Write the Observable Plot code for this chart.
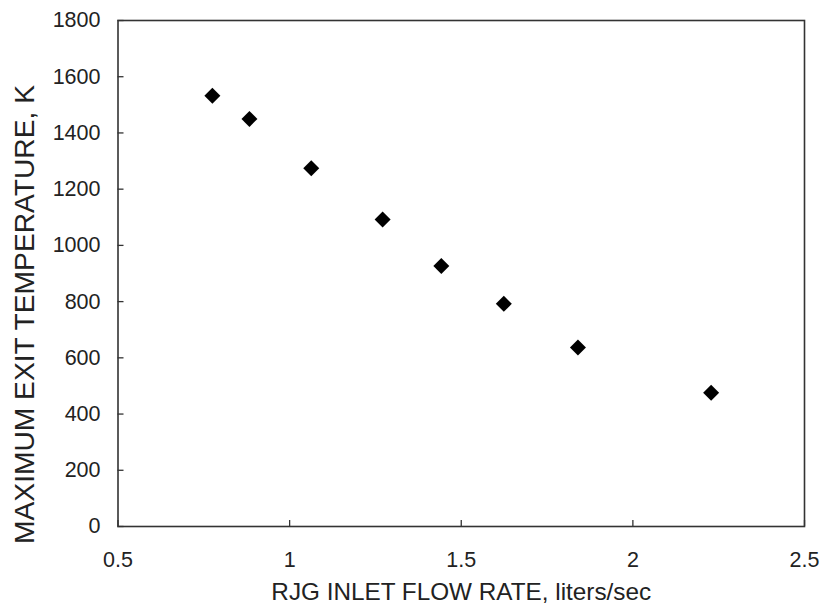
<!DOCTYPE html>
<html>
<head>
<meta charset="utf-8">
<script src="https://cdn.jsdelivr.net/npm/d3@7"></script>
<script src="https://cdn.jsdelivr.net/npm/@observablehq/plot@0.6"></script>
<style>
  html, body { margin: 0; padding: 0; background: #fff; }
  #chart svg { display: block; }
</style>
</head>
<body>
<div id="chart"></div>
<script>
const flowRate = [0.775, 0.883, 1.063, 1.271, 1.442, 1.624, 1.840, 2.228];
const exitTemp = [1532, 1450, 1274, 1092, 927, 792, 637, 476];
const xTicks = [0.5, 1, 1.5, 2, 2.5];
const yTicks = [0, 200, 400, 600, 800, 1000, 1200, 1400, 1600, 1800];
const xTitle = "RJG INLET FLOW RATE, liters/sec";
const yTitle = "MAXIMUM EXIT TEMPERATURE, K";

const data = flowRate.map((x, i) => ({x, y: exitTemp[i]}));

const W = 824, H = 616;
const mL = 117.5, mR = 20, mT = 20, mB = 90;
const plotW = W - mL - mR, plotH = H - mT - mB;
const font = "'Liberation Sans', Arial, Helvetica, sans-serif";
const ink = "#222";

const chart = Plot.plot({
  width: W,
  height: H,
  marginLeft: mL,
  marginRight: mR,
  marginTop: mT,
  marginBottom: mB,
  style: { fontFamily: font, fontSize: "21px", color: ink, background: "#fff" },
  x: { domain: [0.5, 2.5] },
  y: { domain: [0, 1800] },
  marks: [
    Plot.frame({ stroke: "#333", strokeWidth: 1.6 }),
    Plot.axisY(yTicks, { tickSize: 0, tickPadding: 17.5, fontSize: 21.5, fill: ink, label: null, tickFormat: d => String(d) }),
    Plot.axisX(xTicks, { tickSize: 0, tickPadding: 25, fontSize: 21.5, fill: ink, label: null, tickFormat: d => String(d) }),
    Plot.tickY(yTicks, { y: d => d, stroke: "#333", strokeWidth: 1.3, insetRight: plotW - 6 }),
    Plot.tickX(xTicks, { x: d => d, stroke: "#333", strokeWidth: 1.3, insetTop: plotH - 6 }),
    Plot.dot(data, { x: "x", y: "y", symbol: "diamond2", r: 7.2, fill: "#000", stroke: "none" }),
    Plot.text([xTitle], { text: d => d, frameAnchor: "bottom", textAnchor: "middle", dy: 73, fontSize: 24.3, fill: ink }),
    Plot.text([yTitle], { text: d => d, frameAnchor: "left", textAnchor: "middle", dx: -93.5, dy: 41, rotate: -90, fontSize: 28.2, fill: ink })
  ]
});
document.getElementById("chart").appendChild(chart);
</script>
</body>
</html>
